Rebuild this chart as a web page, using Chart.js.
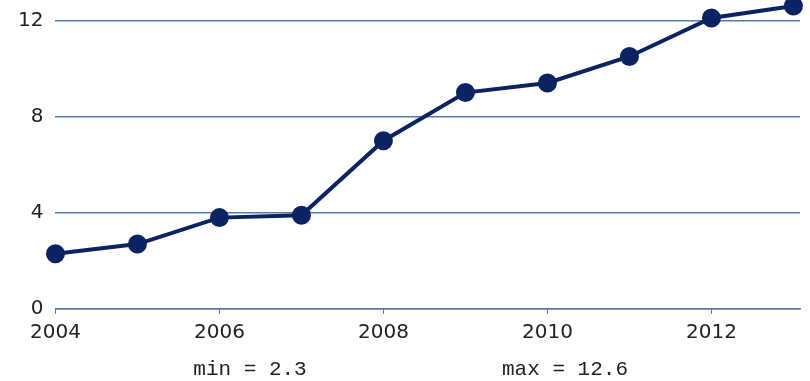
<!DOCTYPE html>
<html>
<head>
<meta charset="utf-8">
<script src="https://cdn.jsdelivr.net/npm/chart.js"></script>
<style>
  html, body { margin: 0; padding: 0; background: #fff; }
  #wrap { width: 810px; height: 381px; position: relative; }
</style>
</head>
<body>
<div id="wrap"><canvas id="chart"></canvas></div>
<script>
// data
const years = [2004, 2005, 2006, 2007, 2008, 2009, 2010, 2011, 2012, 2013];
const values = [2.3, 2.7, 3.8, 3.9, 7.0, 9.0, 9.4, 10.5, 12.1, 12.6];
const yTicks = [0, 4, 8, 12];
const xTicks = [2004, 2006, 2008, 2010, 2012];
const notes = ['min = 2.3', 'max = 12.6'];

const navy = '#0a2463';
const gridBlue = '#5a7ca3';

// min / max notes under the axis
const notesPlugin = {
  id: 'notes',
  afterDraw(chart) {
    const ctx = chart.ctx;
    ctx.save();
    ctx.font = '21px "Liberation Mono", monospace';
    ctx.fillStyle = '#222';
    ctx.textAlign = 'center';
    ctx.textBaseline = 'middle';
    ctx.fillText(notes[0], 250, 369);
    ctx.fillText(notes[1], 565, 369);
    ctx.restore();
  }
};

new Chart(document.getElementById('chart'), {
  type: 'line',
  data: {
    datasets: [{
      data: years.map((y, i) => ({ x: y, y: values[i] })),
      borderColor: navy,
      backgroundColor: navy,
      borderWidth: 4,
      pointRadius: 7.5,
      pointHoverRadius: 7.5,
      tension: 0,
      clip: 10
    }]
  },
  options: {
    responsive: true,
    maintainAspectRatio: false,
    animation: false,
    layout: { autoPadding: false, padding: { top: 6, right: 10, bottom: 29, left: 6 } },
    plugins: { legend: { display: false }, tooltip: { enabled: false } },
    scales: {
      x: {
        type: 'linear',
        min: 2004,
        max: 2013.08,
        afterBuildTicks: (axis) => { axis.ticks = xTicks.map(v => ({ value: v })); },
        ticks: {
          callback: v => String(v),
          font: { family: 'DejaVu Sans', size: 20 },
          color: '#222',
          maxRotation: 0,
          padding: 7
        },
        grid: { display: true, drawOnChartArea: false, color: gridBlue, tickLength: 5 },
        border: { display: true, color: gridBlue, width: 1.5 }
      },
      y: {
        min: 0,
        max: 12.6,
        afterBuildTicks: (axis) => { axis.ticks = yTicks.map(v => ({ value: v })); },
        afterFit: (axis) => { axis.paddingTop = 0; axis.paddingBottom = 0; },
        ticks: {
          font: { family: 'DejaVu Sans', size: 20 },
          color: '#222',
          padding: 12
        },
        grid: { color: gridBlue, lineWidth: 1.5, drawTicks: false },
        border: { display: false }
      }
    }
  },
  plugins: [notesPlugin]
});
</script>
</body>
</html>
